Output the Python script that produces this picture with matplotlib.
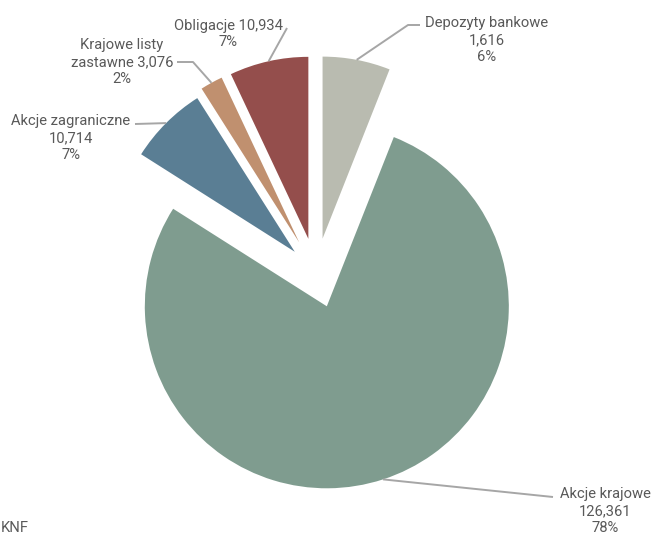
import math
import matplotlib
matplotlib.use('Agg')
import matplotlib.pyplot as plt

# slices clockwise from 12 o'clock
labels = ['Depozyty bankowe', 'Akcje krajowe', 'Akcje zagraniczne',
          'Krajowe listy zastawne', 'Obligacje']
amounts = ['1,616', '126,361', '10,714', '3,076', '10,934']
shares = [6, 78, 7, 2, 7]
colors = ['#B9BBB0', '#7F9C8F', '#5A7E94', '#C0906F', '#944E4C']

label_text = [
    'Depozyty bankowe\n1,616\n6%',
    'Akcje krajowe\n126,361\n78%',
    'Akcje zagraniczne\n10,714\n7%',
    'Krajowe listy\nzastawne 3,076\n2%',
    'Obligacje 10,934\n7%',
]

W, H = 653, 536
fig = plt.figure(figsize=(W / 100, H / 100), dpi=100)
ax = fig.add_axes([0, 0, 1, 1])

R = 182
explode = [35, 35, 30, 35, 35]
wedges, _ = ax.pie(shares, colors=colors, startangle=90, counterclock=False,
                   radius=R, center=(316, H - 273), explode=explode,
                   wedgeprops=dict(linewidth=0))
ax.set_xlim(0, W)
ax.set_ylim(0, H)
ax.set_aspect('equal')
ax.axis('off')

# label placement (pixel positions, y up) and leader elbows
text_pos = [(487, H - 40), (605, H - 511), (71, H - 138), (122, H - 62), (228, H - 34)]
elbows = [
    [(408, H - 25), (420, H - 25)],
    [(553, H - 497)],
    [(135, H - 124)],
    [(193, H - 62), (177, H - 62)],
    [(287, H - 28)],
]

font = ['Roboto', 'DejaVu Sans']
for w, txt, pos, elb in zip(wedges, label_text, text_pos, elbows):
    mid = math.radians((w.theta1 + w.theta2) / 2)
    ax_ = w.center[0] + w.r * math.cos(mid)
    ay_ = w.center[1] + w.r * math.sin(mid)
    xs = [ax_] + [p[0] for p in elb]
    ys = [ay_] + [p[1] for p in elb]
    ax.plot(xs, ys, color='#A6A6A6', lw=1.4, solid_capstyle='butt')
    ax.text(pos[0], pos[1], txt, ha='center', va='center', fontsize=10.6,
            family=font, color='#595959', linespacing=1.25)

ax.text(1, H - 528, 'KNF', ha='left', va='center', fontsize=10.6,
        family=font, color='#595959')

fig.savefig('out.png', dpi=100)
